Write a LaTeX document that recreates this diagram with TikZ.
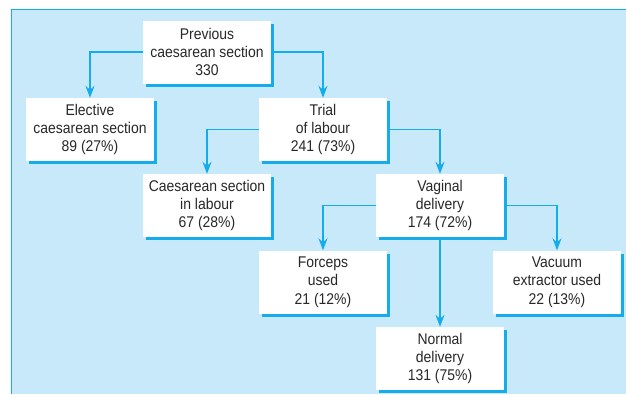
\documentclass[tikz,border=0pt]{standalone}
\usepackage{fontspec}
\setmainfont[FakeStretch=0.9]{Liberation Sans}
\usetikzlibrary{arrows.meta,shadows}
\definecolor{linecol}{RGB}{20,172,234}
\definecolor{bgcol}{RGB}{199,233,249}
\definecolor{txtcol}{RGB}{40,40,40}
\begin{document}
\begin{tikzpicture}[x=1pt,y=-1pt,
  box/.style={fill=white, minimum width=128pt, minimum height=63pt, inner sep=0pt,
    align=center, text=txtcol, font=\fontsize{15.5pt}{18.3pt}\selectfont,
    drop shadow={shadow xshift=3pt, shadow yshift=-3pt, fill=linecol, opacity=1}},
  conn/.style={draw=linecol, line width=1.2pt, -{Stealth[length=12pt,width=9pt,inset=4pt]}}]
\useasboundingbox (0,0) rectangle (626,394);
\fill[bgcol] (11,9) rectangle (626,394);
\draw[linecol, line width=1pt] (11,394) -- (11,9) -- (626,9);
\node[box] (prev) at (207,52) {Previous\\caesarean section\\330};
\node[box] (elect) at (90,129.5) {Elective\\caesarean section\\89 (27\%)};
\node[box] (trial) at (323,129.5) {Trial\\of labour\\241 (73\%)};
\node[box] (caes) at (207,205.5) {Caesarean section\\in labour\\67 (28\%)};
\node[box] (vag) at (440,205.5) {Vaginal\\delivery\\174 (72\%)};
\node[box] (forc) at (323,282) {Forceps\\used\\21 (12\%)};
\node[box] (vac) at (557,282) {Vacuum\\extractor used\\22 (13\%)};
\node[box] (norm) at (440,358.5) {Normal\\delivery\\131 (75\%)};
\draw[conn] (prev.west) -| (elect.north);
\draw[conn] (prev.east) -| (trial.north);
\draw[conn] (trial.west) -| (caes.north);
\draw[conn] (trial.east) -| (vag.north);
\draw[conn] (vag.west) -| (forc.north);
\draw[conn] (vag.east) -| (vac.north);
\draw[conn] (vag.south) -- (norm.north);
\end{tikzpicture}
\end{document}
